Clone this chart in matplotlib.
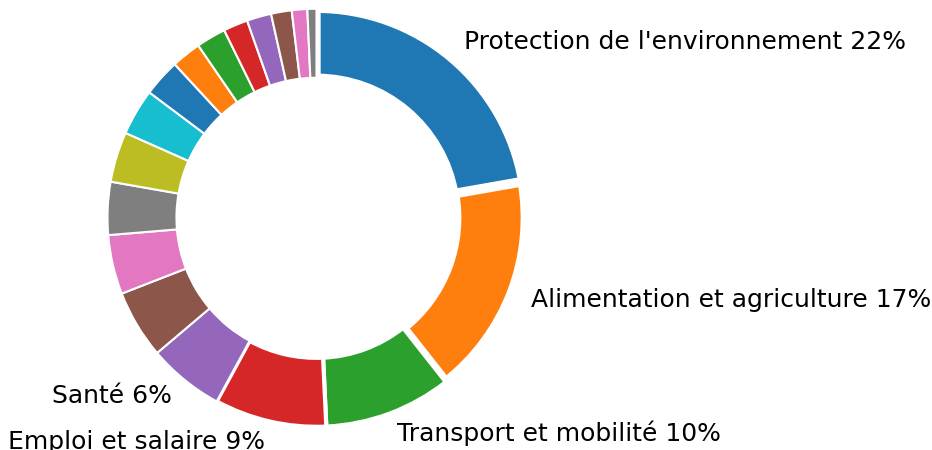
import matplotlib
matplotlib.use("Agg")
import matplotlib.pyplot as plt

# Parts of the ring, clockwise from the top
names = ["Protection de l'environnement", "Alimentation et agriculture",
         "Transport et mobilité", "Emploi et salaire", "Santé",
         "", "", "", "", "", "", "", "", "", "", "", "", ""]
values = [22.3, 17.2, 9.9, 8.7, 5.9, 5.3, 4.6, 4.1, 3.9, 3.6,
          2.9, 2.3, 2.3, 1.9, 1.9, 1.6, 1.2, 0.7]

total = sum(values)
labels = []
for n, v in zip(names, values):
    if n:
        labels.append("%s %d%%" % (n, round(v / total * 100)))
    else:
        labels.append("")

W, H = 932, 450
cx, cy, R = 316.5, 217.8, 209.0   # centre and radius in pixels

fig = plt.figure(figsize=(W / 100, H / 100), dpi=100)
ax = fig.add_axes([0, 0, 1, 1])

colors = plt.rcParams['axes.prop_cycle'].by_key()['color']
colors = [colors[i % len(colors)] for i in range(len(values))]

wedges, texts = ax.pie(values, labels=labels, colors=colors, startangle=90,
                       counterclock=False, labeldistance=1.1,
                       wedgeprops=dict(width=0.33, edgecolor='white', linewidth=1.5),
                       textprops=dict(fontsize=18))

# the big slices have wider white borders
for w, lw in zip(wedges, [6, 7, 3, 3]):
    w.set_linewidth(lw)

ax.set_xlim(-cx / R, (W - cx) / R)
ax.set_ylim(-(H - cy) / R, cy / R)
ax.axis('off')

fig.savefig("out.png", dpi=100)
